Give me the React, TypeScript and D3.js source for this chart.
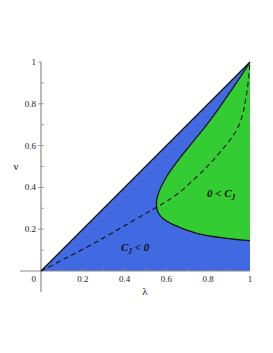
import * as d3 from "d3";

// tick values for both axes
const lambdaTicks = [0.2, 0.4, 0.6, 0.8, 1];
const nuTicks = [0.2, 0.4, 0.6, 0.8, 1];
const minorTicks = [0.1, 0.2, 0.3, 0.4, 0.5, 0.6, 0.7, 0.8, 0.9];

// boundary of the 0 < C_J region, ordered by nu (right edge -> turning point -> top corner)
const boundaryLambda = [1, 0.888, 0.745, 0.633, 0.585, 0.563, 0.553, 0.554, 0.562, 0.601, 0.657, 0.72, 0.785, 0.845, 0.9, 0.952, 1];
const boundaryNu = [0.145, 0.156, 0.18, 0.222, 0.25, 0.275, 0.308, 0.34, 0.372, 0.451, 0.531, 0.61, 0.69, 0.77, 0.85, 0.925, 1];

// dashed curve
const dashLambda = [0, 0.258, 0.474, 0.585, 0.657, 0.745, 0.824, 0.944, 0.984, 1];
const dashNu = [0, 0.135, 0.26, 0.324, 0.372, 0.451, 0.531, 0.69, 0.85, 1];

const BLUE = "#4169e1";
const GREEN = "#33cc33";
const AXIS = "#8c8c8c";
const FONT = "'Liberation Serif', 'DejaVu Serif', serif";

export default function App() {
  const width = 273;
  const height = 353;

  const x = d3.scaleLinear().domain([0, 1]).range([41, 250]);
  const y = d3.scaleLinear().domain([0, 1]).range([271, 62]);

  const boundaryPts: [number, number][] = boundaryLambda.map((l, i) => [l, boundaryNu[i]]);
  const dashPts: [number, number][] = dashLambda.map((l, i) => [l, dashNu[i]]);

  const line = d3
    .line<[number, number]>()
    .x((d) => x(d[0]))
    .y((d) => y(d[1]))
    .curve(d3.curveCatmullRom.alpha(0.5));

  const boundaryPath = line(boundaryPts) || "";
  const greenPath = boundaryPath + "Z";
  const dashPath = line(dashPts) || "";

  const triangle = `M${x(0)},${y(0)}L${x(1)},${y(1)}L${x(1)},${y(0)}Z`;

  return (
    <svg
      width={width}
      height={height}
      style={{ position: "absolute", left: 0, top: 0 }}
      fontFamily={FONT}
    >
      <rect width={width} height={height} fill="#fff" />

      {/* regions */}
      <path d={triangle} fill={BLUE} />
      <path d={greenPath} fill={GREEN} />

      {/* axes */}
      <line x1={x(0)} x2={x(0)} y1={y(1)} y2={y(0) + 21} stroke={AXIS} strokeWidth={1.2} />
      <line x1={x(0) - 21} x2={x(1)} y1={y(0)} y2={y(0)} stroke={AXIS} strokeWidth={1.2} />
      {minorTicks.map((t) => (
        <g key={"m" + t}>
          <line x1={x(t)} x2={x(t)} y1={y(0)} y2={y(0) - 3} stroke={AXIS} strokeWidth={0.8} />
          <line x1={x(0)} x2={x(0) + 3} y1={y(t)} y2={y(t)} stroke={AXIS} strokeWidth={0.8} />
        </g>
      ))}
      {lambdaTicks.map((t) => (
        <text key={"x" + t} x={x(t)} y={y(0) + 11} fontSize={9} textAnchor="middle" fill="#222">
          {String(t)}
        </text>
      ))}
      {nuTicks.map((t) => (
        <g key={"y" + t}>
          <line x1={x(0) - 3} x2={x(0)} y1={y(t)} y2={y(t)} stroke={AXIS} strokeWidth={0.8} />
          <text x={x(0) - 5} y={y(t) + 3} fontSize={9} textAnchor="end" fill="#222">
            {String(t)}
          </text>
        </g>
      ))}
      <text x={x(0) - 5} y={y(0) + 11} fontSize={9} textAnchor="end" fill="#222">
        0
      </text>

      {/* curves */}
      <line x1={x(0)} y1={y(0)} x2={x(1)} y2={y(1)} stroke="#111" strokeWidth={1.2} />
      <path d={boundaryPath} fill="none" stroke="#111" strokeWidth={1.2} />
      <path d={dashPath} fill="none" stroke="#111" strokeWidth={1.1} strokeDasharray="5,3.5" />

      {/* region labels */}
      <text x={121} y={251} fontSize={11} fontStyle="italic" fontWeight="bold" fill="#111">
        C<tspan fontSize={7.5} dy={3}>J</tspan>
        <tspan dy={-3}>{" < 0"}</tspan>
      </text>
      <text x={207} y={197} fontSize={11} fontStyle="italic" fontWeight="bold" fill="#111">
        {"0 < C"}
        <tspan fontSize={7.5} dy={3}>J</tspan>
      </text>

      {/* axis labels */}
      <text x={16} y={170} fontSize={11} textAnchor="middle" fill="#222">
        ν
      </text>
      <text x={145} y={295} fontSize={11} textAnchor="middle" fill="#222">
        λ
      </text>
    </svg>
  );
}
